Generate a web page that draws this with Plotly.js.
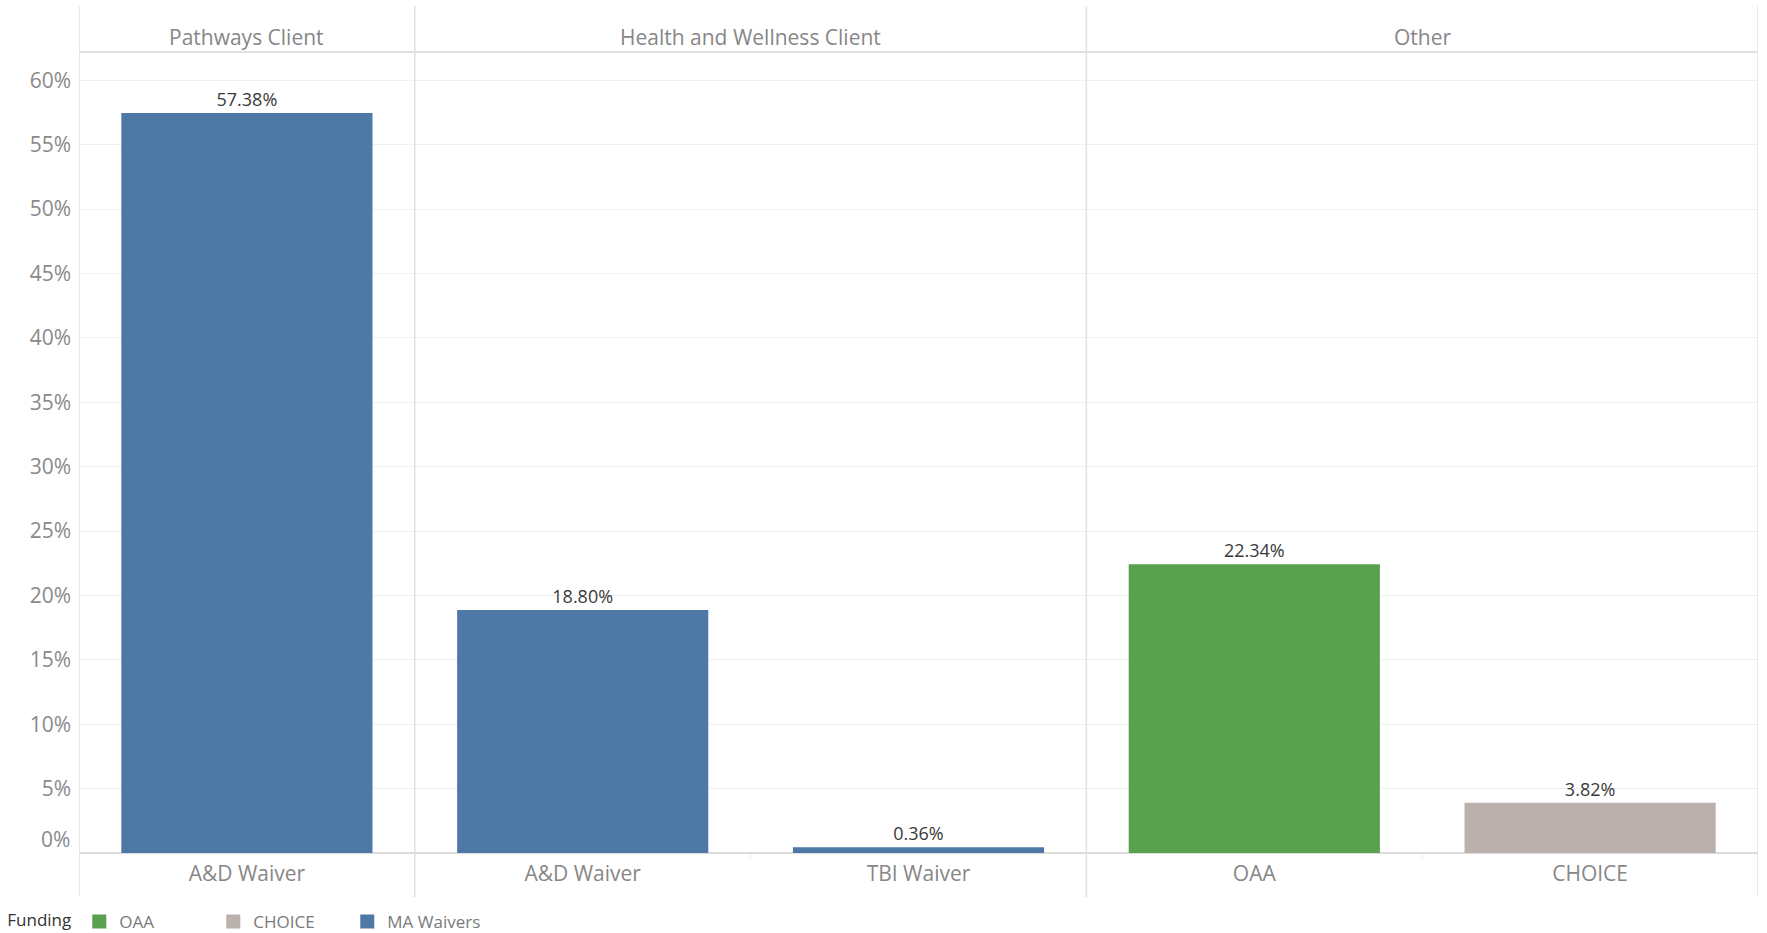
<!DOCTYPE html>
<html>
<head>
<meta charset="utf-8">
<script src="https://cdn.plot.ly/plotly-3.0.1.min.js"></script>
<style>
  html, body { margin: 0; padding: 0; background: #ffffff; }
  #chart { width: 1767px; height: 933px; }
</style>
</head>
<body>
<div id="chart"></div>
<script>
// Client groups shown as column headers
const groups = ['Pathways Client', 'Health and Wellness Client', 'Other'];

// One bar per program, in display order
const programs = ['A&D Waiver', 'A&D Waiver', 'TBI Waiver', 'OAA', 'CHOICE'];
const programGroup = ['Pathways Client', 'Health and Wellness Client', 'Health and Wellness Client', 'Other', 'Other'];
const programFunding = ['MA Waivers', 'MA Waivers', 'MA Waivers', 'OAA', 'CHOICE'];
const shareOfClients = [57.38, 18.80, 0.36, 22.34, 3.82];

// Funding sources (legend order) and their colours
const fundingSources = ['OAA', 'CHOICE', 'MA Waivers'];
const fundingColors = ['#59a14f', '#bab0ac', '#4e79a7'];

// Value axis ticks (percent)
const yTicks = [0, 5, 10, 15, 20, 25, 30, 35, 40, 45, 50, 55, 60];

const FONT = '"Open Sans", "Noto Sans", sans-serif';
const W = 1767, H = 933;
const M = { l: 79, r: 9, t: 52, b: 80 };
const plotH = H - M.t - M.b;
const pxUp = px => 1 + px / plotH;     // paper y, px above plot top
const pxDown = px => -px / plotH;      // paper y, px below plot bottom

const xIdx = programs.map((_, i) => i);

const traces = fundingSources.map((src, k) => {
  const idx = xIdx.filter(i => programFunding[i] === src);
  return {
    type: 'bar',
    name: src,
    x: idx,
    y: idx.map(i => shareOfClients[i]),
    text: idx.map(i => shareOfClients[i].toFixed(2) + '%'),
    textposition: 'outside',
    textfont: { family: FONT, size: 18, color: '#3a3a3a' },
    cliponaxis: false,
    width: 0.742,
    marker: { color: fundingColors[k], line: { color: fundingColors[k], width: 2 } },
    hoverinfo: 'skip'
  };
});

// Panel boundaries derived from the grouping of programs
const boundaries = [-0.5];
const innerBoundaries = [];
groups.forEach(g => {
  const members = xIdx.filter(i => programGroup[i] === g);
  boundaries.push(Math.max(...members) + 0.5);
  members.slice(0, -1).forEach(i => innerBoundaries.push(i + 0.5));
});

const lineColor = '#e1e1e1';
const shapes = boundaries.map(b => ({
  type: 'line', xref: 'x', yref: 'paper',
  x0: b, x1: b, y0: pxDown(44), y1: pxUp(46),
  line: { color: lineColor, width: 1.5 }, layer: 'above'
}));
// Short separators between programs inside one panel
innerBoundaries.forEach(b => shapes.push({
  type: 'line', xref: 'x', yref: 'paper',
  x0: b, x1: b, y0: pxDown(1), y1: pxDown(6),
  line: { color: '#ececec', width: 1 }, layer: 'above'
}));
// Header underline
shapes.push({
  type: 'line', xref: 'paper', yref: 'paper',
  x0: 0, x1: 1, y0: 1, y1: 1,
  line: { color: lineColor, width: 2 }, layer: 'above'
});

const annotations = groups.map(g => {
  const members = xIdx.filter(i => programGroup[i] === g);
  const mid = (Math.min(...members) + Math.max(...members)) / 2;
  return {
    text: g, xref: 'x', yref: 'paper', x: mid, y: pxUp(15),
    xanchor: 'center', yanchor: 'middle', showarrow: false,
    font: { family: FONT, size: 21, color: '#878787' }
  };
});
// Bottom tick label sits just above the baseline
annotations.push({
  text: yTicks[0] + '%', xref: 'paper', yref: 'y', x: 0, y: yTicks[0],
  xanchor: 'right', yanchor: 'middle', xshift: -7, yshift: 14, showarrow: false,
  font: { family: FONT, size: 21, color: '#8a8a8a' }
});

const layout = {
  width: W, height: H,
  margin: M,
  paper_bgcolor: '#ffffff',
  plot_bgcolor: '#ffffff',
  font: { family: FONT },
  bargap: 0,
  showlegend: true,
  hovermode: false,
  xaxis: {
    type: 'linear',
    range: [-0.5, programs.length - 0.5],
    tickvals: xIdx,
    ticktext: programs,
    showgrid: false, zeroline: false, showline: false,
    ticks: '',
    ticklabelstandoff: 6,
    tickfont: { family: FONT, size: 21, color: '#878787' },
    fixedrange: true
  },
  yaxis: {
    range: [0, 62.2],
    tickvals: yTicks,
    ticktext: yTicks.map(v => v === 0 ? '' : v + '%'),
    showgrid: true, gridcolor: '#f0f0f0', gridwidth: 1,
    zeroline: true, zerolinecolor: '#dcdcdc', zerolinewidth: 2,
    showline: false, ticks: '',
    ticklabelstandoff: 7,
    tickfont: { family: FONT, size: 21, color: '#8a8a8a' },
    fixedrange: true
  },
  legend: {
    orientation: 'h',
    xref: 'container', yref: 'container',
    x: 0.003, y: 1 - 922 / H,
    xanchor: 'left', yanchor: 'middle',
    title: { text: 'Funding', side: 'left', font: { family: FONT, size: 17, color: '#333333' } },
    font: { family: FONT, size: 17, color: '#7a7a7a' },
    entrywidth: 89,
    itemclick: false, itemdoubleclick: false,
    bgcolor: 'rgba(0,0,0,0)', borderwidth: 0
  },
  shapes: shapes,
  annotations: annotations
};

Plotly.newPlot('chart', traces, layout, { displayModeBar: false, staticPlot: true });
</script>
</body>
</html>
